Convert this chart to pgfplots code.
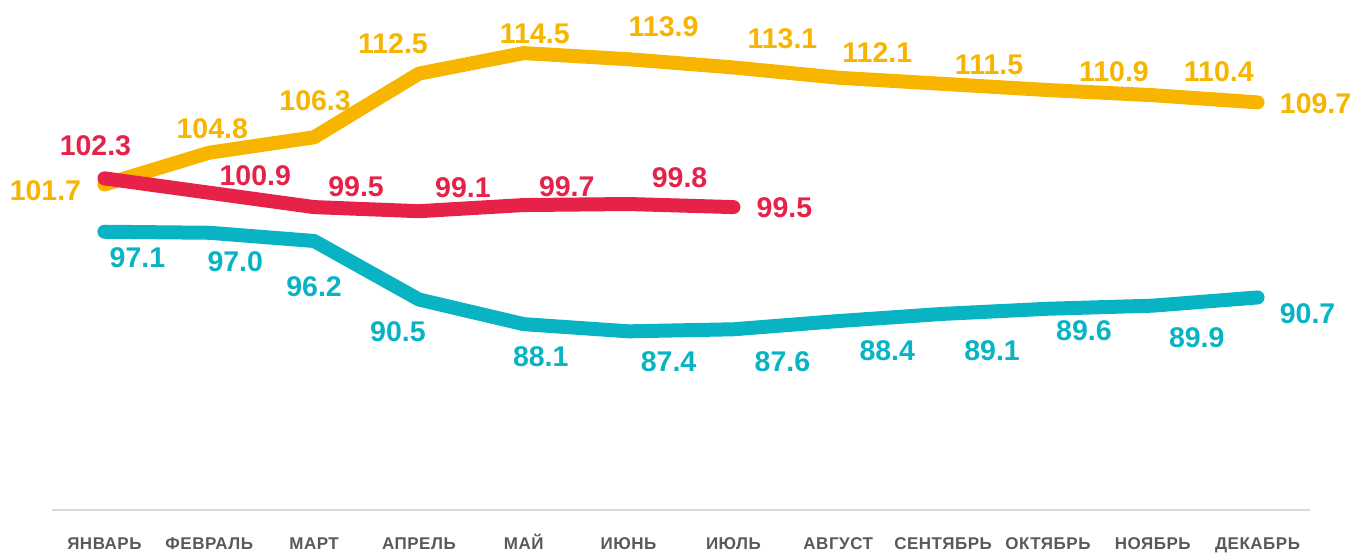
\documentclass[border=0pt]{standalone}
\usepackage{pgfplots}
\pgfplotsset{compat=1.18}
\usepackage{pgfplotstable}
\usepackage{fontspec}
\setmainfont{Liberation Sans}
\newfontfamily\tickfont{Liberation Sans}[LetterSpace=3]
\definecolor{cY}{RGB}{247,181,0}
\definecolor{cR}{RGB}{230,34,72}
\definecolor{cT}{RGB}{8,180,196}
\definecolor{cG}{RGB}{89,89,89}
\definecolor{cL}{RGB}{217,217,217}

\pgfplotstableread{
x y lab dx dy
0 101.7 101.7 -59 -6
1 104.8 104.8 3 24
2 106.3 106.3 1 37
3 112.5 112.5 -26 30
4 114.5 114.5 11 19
5 113.9 113.9 35 33
6 113.1 113.1 49 29
7 112.1 112.1 39 25
8 111.5 111.5 46 19
9 110.9 110.9 66 18
10 110.4 110.4 66 23
11 109.7 109.7 58 -1
}\yellowdata

\pgfplotstableread{
x y lab dx dy
0 102.3 102.3 -9 33
1 100.9 100.9 46 17
2 99.5 99.5 42 20
3 99.1 99.1 44 24
4 99.7 99.7 43 18
5 99.8 99.8 51 26
6 99.5 99.5 51 -1
}\reddata

\pgfplotstableread{
x y lab dx dy
0 97.1 97.1 33 -26
1 97.0 97.0 26 -29
2 96.2 96.2 0 -46
3 90.5 90.5 -21 -32
4 88.1 88.1 17 -33
5 87.4 87.4 40 -30
6 87.6 87.6 49 -32
7 88.4 88.4 49 -30
8 89.1 89.1 49 -37
9 89.6 89.6 36 -22
10 89.9 89.9 44 -32
11 90.7 90.7 50 -16
}\tealdata

\begin{document}
\begin{tikzpicture}
\begin{axis}[
  scale only axis,
  width=1258pt, height=510pt,
  xmin=-0.5, xmax=11.5,
  ymin=70, ymax=119.67,
  axis line style={draw=none},
  ytick=\empty,
  xtick={0,...,11},
  xticklabels={ЯНВАРЬ,ФЕВРАЛЬ,МАРТ,АПРЕЛЬ,МАЙ,ИЮНЬ,ИЮЛЬ,АВГУСТ,СЕНТЯБРЬ,ОКТЯБРЬ,НОЯБРЬ,ДЕКАБРЬ},
  xticklabel style={font=\fontsize{17}{19}\tickfont\bfseries, text=cG, anchor=base, yshift=-39pt, inner sep=0pt},
  major tick length=0pt,
  clip=false,
  every axis plot/.append style={line width=14pt, line cap=round, line join=round, mark=none},
  lbl/.style={
    nodes near coords,
    point meta=explicit symbolic,
    visualization depends on={\thisrow{dx}\as\dx},
    visualization depends on={\thisrow{dy}\as\dy},
    every node near coord/.append style={anchor=center, xshift=\dx pt, yshift=\dy pt, font=\fontsize{28.5}{30}\selectfont\bfseries, text=#1},
  },
]
\draw[line width=2pt, color=cL] (rel axis cs:0,0) -- (rel axis cs:1,0);
\coordinate (sw) at (rel axis cs:0,0);
\addplot[color=cY, lbl=cY] table[x=x, y=y, meta=lab]{\yellowdata};
\addplot[color=cT, lbl=cT] table[x=x, y=y, meta=lab]{\tealdata};
\addplot[color=cR, lbl=cR] table[x=x, y=y, meta=lab]{\reddata};
\end{axis}
\pgfresetboundingbox
\path ([shift={(-52pt,-42pt)}]sw) rectangle ([shift={(1306pt,510pt)}]sw);
\end{tikzpicture}
\end{document}
